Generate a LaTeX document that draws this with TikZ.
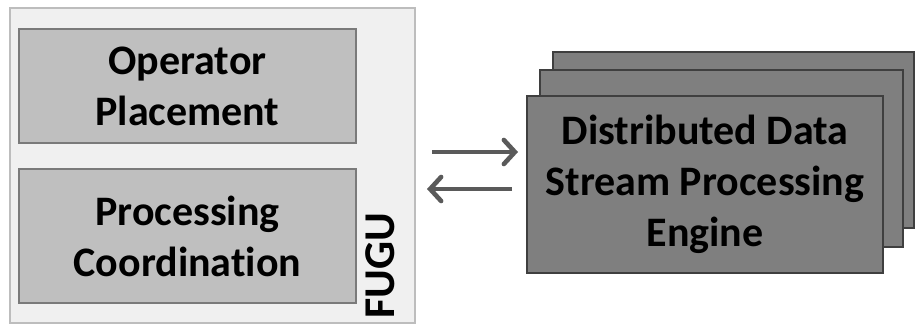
\documentclass[tikz,border=0pt]{standalone}
\usepackage{fontspec}
\setmainfont{Carlito}[Ligatures=NoCommon]
\usetikzlibrary{arrows.meta}
\definecolor{panelfill}{HTML}{F0F0F0}
\definecolor{panelline}{HTML}{BDBDBD}
\definecolor{modfill}{HTML}{BFBFBF}
\definecolor{modline}{HTML}{7A7A7A}
\definecolor{engfill}{HTML}{7F7F7F}
\definecolor{engline}{HTML}{3F3F3F}
\definecolor{flow}{HTML}{5A5A5A}
\begin{document}
\begin{tikzpicture}[x=1pt,y=-1pt,
  panel/.style={draw=panelline, fill=panelfill, line width=1.2pt, inner sep=0pt},
  module/.style={draw=modline, fill=modfill, line width=1.2pt, align=center,
    font=\fontsize{42}{51}\selectfont\bfseries, inner sep=0pt},
  engine/.style={draw=engline, fill=engfill, line width=1.2pt, align=center,
    font=\fontsize{42}{51}\selectfont\bfseries, inner sep=0pt},
  flowarrow/.style={draw=flow, line width=4.6pt,
    -{Straight Barb[length=11pt,width=24pt,line cap=round]}}
]
\useasboundingbox (0,0) rectangle (915,325);

% FUGU container with its two modules
\node[panel, minimum width=405pt, minimum height=315pt] (fugu) at (212.5,165.5) {};
\node[module, minimum width=337pt, minimum height=114pt] (op) at (187.5,86)
  {Operator\\Placement};
\node[module, minimum width=337pt, minimum height=134pt] (pc) at (187.5,236)
  {Processing\\Coordination};
\node[rotate=90, font=\fontsize{44}{46}\selectfont\bfseries, inner sep=0pt]
  (fugulabel) at (380,266) {FUGU};

% stacked engine instances
\node[engine, minimum width=361pt, minimum height=176pt] (eng3) at (733.5,140) {};
\node[engine, minimum width=363pt, minimum height=177pt] (eng2) at (721.5,158.5) {};
\node[engine, minimum width=356pt, minimum height=177pt] (eng1) at (705,184.5)
  {Distributed Data\\Stream Processing\\Engine};

% request / response flow
\coordinate (reqstart) at (432,152);
\coordinate (reqend) at (518,152);
\coordinate (resstart) at (512,189);
\coordinate (resend) at (427,189);
\draw[flowarrow] (reqstart) -- (reqend);
\draw[flowarrow] (resstart) -- (resend);
\end{tikzpicture}
\end{document}
